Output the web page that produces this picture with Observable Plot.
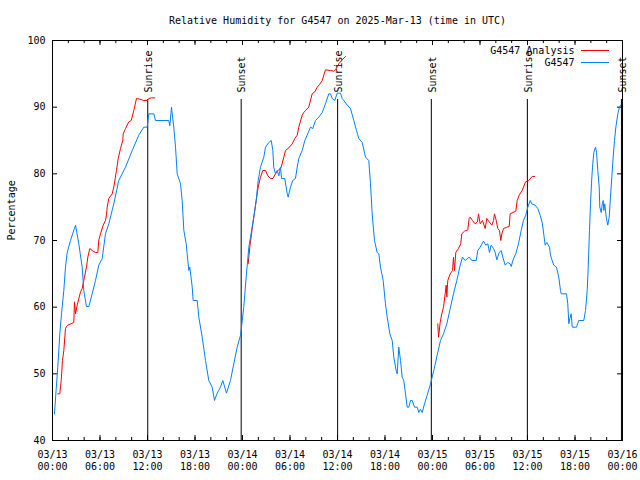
<!DOCTYPE html>
<html><head><meta charset="utf-8">
<script src="https://cdn.jsdelivr.net/npm/d3@7"></script>
<script src="https://cdn.jsdelivr.net/npm/@observablehq/plot@0.6"></script>
<style>body{margin:0;background:#fff;} svg{display:block}</style>
</head><body><div id="chart"></div>
<script>
const title = "Relative Humidity for G4547 on 2025-Mar-13 (time in UTC)";
const yLabel = "Percentage";
const startTime = "2025-03-13T00:00Z";
const endTime = "2025-03-16T00:00Z";
const yTicks = [40, 50, 60, 70, 80, 90, 100];
const seriesNames = ["G4547 Analysis", "G4547"];
const seriesColors = ["#ff0000", "#0080ff"];

// hours since 03/13 00:00 UTC
const blueHours = [0.25,0.47,0.67,0.92,1.14,1.43,1.64,1.86,2.27,2.91,
3.32,3.75,3.95,4.29,4.59,5.01,5.43,5.85,6.28,6.69,
7.11,7.74,8.37,9.22,10.07,10.90,11.53,11.96,12.16,12.80,
13.01,14.69,14.82,15.03,15.32,15.54,15.75,16.17,16.38,16.59,
16.89,17.01,17.22,17.34,17.65,17.77,18.28,18.48,18.91,19.33,
19.74,20.17,20.46,20.80,21.22,21.51,21.98,22.48,22.90,23.33,
23.75,23.87,24.16,24.50,24.80,25.01,25.43,25.73,25.98,26.27,
26.69,26.91,27.32,27.63,27.83,27.95,28.17,28.38,28.59,28.80,
28.93,29.34,29.65,29.77,30.06,30.35,30.69,30.91,31.11,31.54,
31.87,32.17,32.59,32.88,33.22,33.64,34.07,34.48,34.90,35.12,
35.33,35.66,35.96,36.38,36.59,36.80,37.22,37.64,38.06,38.40,
38.69,39.12,39.54,39.95,40.17,40.38,40.67,41.01,41.22,41.43,
41.77,42.06,42.28,42.61,42.91,43.11,43.41,43.54,43.74,43.96,
44.17,44.37,44.59,44.80,45.01,45.22,45.44,45.73,46.07,46.27,
46.48,46.70,46.99,47.33,47.75,48.16,48.59,49.01,49.39,49.81,
50.24,50.65,51.07,51.50,51.79,52.13,52.63,52.96,53.52,53.72,
54.02,54.44,54.73,54.99,55.20,55.41,55.71,55.92,56.12,56.42,
56.68,56.88,57.18,57.51,57.81,57.94,58.23,58.52,58.86,59.20,
59.49,59.78,60.04,60.34,60.54,60.97,61.30,61.60,61.89,62.23,
62.44,62.78,62.90,63.12,63.32,63.66,63.95,64.17,64.26,64.93,
65.09,65.22,65.35,65.52,65.65,66.19,66.48,67.11,67.33,67.54,
67.67,67.83,67.96,68.08,68.21,68.38,68.59,68.72,68.88,69.06,
69.13,69.31,69.44,69.56,69.64,69.76,69.94,70.14,70.32,70.48,
70.65,70.82,70.99,71.16,71.41,71.62,71.75];
const blueRH = [44,47.8,51,56,59,62.5,66,68.2,70,72.3,
69.5,66,62.5,60.1,60.1,62,64,66.3,67.3,71,
72.5,75.5,79,81,83.5,85.8,87,87,89,89,
88,88,87.2,90,87,84,80,78.5,76,71.5,
69.5,68,65.5,66,63,61,61,58.5,55.5,52,
49,48,46,47.1,48,49,47.1,49,51.5,54,
55.8,57,60,65,69,70.5,73.5,76,79,81,
82.5,84,84.7,85,83.5,81,80,80.5,79.7,81,
79.3,79.3,77,76.5,78,79,79.3,81,82.3,83.5,
85,85.8,87,86.8,88,88.5,89.2,90.5,92,92,
91.3,91,92.1,92.1,91.3,91,90.3,89.8,88,86.5,
85.3,84.7,82.5,82,78.5,74,70,68.2,68,66,
64,60.5,58.5,56,55,52.5,50.5,50,54,52,
49.5,49,47,45,45,46,46,45,45,44.2,
44.7,44.2,45.5,46.8,48.5,50.5,52.8,55,56,57.5,
59.8,62,64,66.3,67.5,67,67.5,67,67,68.5,
69,69.9,69.3,69.5,68.2,69.3,68.8,68.2,67.1,68.2,
68.5,67.5,66.3,66.7,66.5,66.1,67.3,68,69.5,71.5,
73,73.8,75,76,75.5,75.3,74.8,73.8,72.5,69.3,
69.7,69,67.8,67,66.3,66,64.5,62.5,62,62,
60.5,57.5,58.3,59,57,57,58,58,59.5,62.5,
66,71.5,75.5,78.5,81,83.2,84,83.2,80.5,78,
75,74.2,75.5,76,74.5,75.5,73.5,72.3,73.5,76.5,
79.5,82.5,85,87,89,90,90.3];

const redHours1 = [0.67,0.92,1.10,1.26,1.43,1.64,1.77,1.93,2.69,2.78,
2.91,3.12,3.54,3.75,3.95,4.29,4.46,4.71,5.01,5.43,
5.72,5.85,6.06,6.40,6.69,6.82,6.91,7.11,7.54,7.74,
8.08,8.30,8.59,8.88,8.93,9.22,9.64,9.94,10.27,10.61,
11.03,11.53,11.96,12.16,12.51,12.92];
const redRH1 = [47,47,49,52,53.5,56.8,57.1,57.3,57.7,60.8,
59,60.3,62.3,62.8,64,66,67.5,68.8,68.5,68.2,
68.2,70.1,71,72.3,73,73.8,75,76.3,77,78,
80.5,82.3,83.8,85,86,86.8,87.8,88,89.5,91.3,
91.2,91,91,91.3,91.4,91.4];
const redHours2 = [24.72,24.92,25.14,25.30,25.55,25.73,25.98,26.27,26.56,26.91,
27.20,27.54,27.83,28.17,28.51,28.89,29.22,29.43,29.85,30.28,
30.61,30.91,31.11,31.54,31.74,31.96,32.37,32.80,33.13,33.44,
33.73,34.07,34.48,35.12,35.53,35.75,36.16,36.51,37.01];
const redRH2 = [66.5,69,71,72.5,74.5,76,78,79.5,80.5,80.5,
79.7,79.3,79.3,80,80.5,81,82.5,83.5,83.9,84.5,
85.3,85.8,87,88.8,89.2,89.5,90,92,92.3,93,
93.4,94,95.6,95.5,95.4,95.6,96.5,97,97.6];
const redHours3 = [48.67,48.76,48.97,49.17,49.39,49.60,49.73,49.81,49.93,50.24,
50.53,50.65,50.78,50.94,51.28,51.57,51.70,52.04,52.46,52.63,
52.76,53.05,53.39,53.68,53.81,54.02,54.31,54.65,54.86,55.16,
55.49,55.71,55.83,56.05,56.25,56.46,56.63,56.76,56.97,57.39,
57.69,57.81,58.14,58.52,58.70,58.95,59.33,59.75,60.16,60.59,
60.88];
const redRH3 = [57.5,55.5,57.7,59,60,62,63.3,61.5,64,65,
65.5,67.5,65.5,68.2,68.8,69.5,71,71.4,71.6,73.3,
73.5,73,72.5,72.8,74,72.5,73,71.8,73.3,72.8,
72.3,73,74,73,71.8,71.5,70,71,71.8,72,
72.1,74,74.2,74.4,76,76.8,77.5,78.8,79,79.6,
79.6];

const sunTimes = ["2025-03-13T12:02Z","2025-03-13T23:50Z","2025-03-14T12:01Z","2025-03-14T23:51Z","2025-03-15T11:59Z","2025-03-15T23:52Z"];
const sunLabels = ["Sunrise","Sunset","Sunrise","Sunset","Sunrise","Sunset"];

const t0 = new Date(startTime), t1 = new Date(endTime);
const toDate = h => new Date(+t0 + h * 3600e3);
const blue = blueHours.map((h, i) => ({t: toDate(h), v: blueRH[i]}));
const red = [[redHours1, redRH1], [redHours2, redRH2], [redHours3, redRH3]]
  .flatMap(([hs, vs], s) => hs.map((h, i) => ({t: toDate(h), v: vs[i], seg: s})));
const sun = sunTimes.map((t, i) => ({t: new Date(t), label: sunLabels[i]}));
const majorTicks = d3.utcHour.every(6).range(t0, new Date(+t1 + 1));
const minorTicks = d3.utcHour.every(2).range(t0, new Date(+t1 + 1));

const W = 640, H = 480, mL = 52, mR = 18, mT = 40, mB = 40;
const fw = W - mL - mR, fh = H - mT - mB;
const fmt = d => d3.utcFormat("%m/%d")(d) + "\n" + d3.utcFormat("%H:%M")(d);

const chart = Plot.plot({
  width: W, height: H, marginLeft: mL, marginRight: mR, marginTop: mT, marginBottom: mB,
  style: {fontFamily: "'DejaVu Sans Mono', monospace", fontSize: "10px", background: "#fff", color: "#000"},
  x: {type: "utc", domain: [t0, t1]},
  y: {domain: [40, 100]},
  marks: [
    Plot.ruleX(minorTicks, {insetTop: fh - 3}),
    Plot.ruleX(minorTicks, {insetBottom: fh - 3}),
    Plot.ruleX(majorTicks, {insetTop: fh - 5}),
    Plot.ruleX(majorTicks, {insetBottom: fh - 5}),
    Plot.ruleY(yTicks, {insetRight: fw - 5}),
    Plot.ruleY(yTicks, {insetLeft: fw - 5}),
    Plot.axisX(majorTicks, {tickSize: 0, tickPadding: 9, tickFormat: fmt, lineHeight: 1.2, label: null, fontSize: 10}),
    Plot.axisY(yTicks, {tickSize: 0, tickPadding: 7, label: null, fontSize: 10}),
    Plot.ruleX(sun, {x: "t", insetTop: 59, stroke: "#000"}),
    Plot.text(sun, {x: "t", text: "label", frameAnchor: "top", lineAnchor: "middle", dy: 52, dx: 1, rotate: -90, textAnchor: "start", fill: "#000"}),
    Plot.line(red, {x: "t", y: "v", z: "seg", stroke: seriesColors[0], strokeWidth: 1}),
    Plot.line(blue, {x: "t", y: "v", stroke: seriesColors[1], strokeWidth: 1}),
    Plot.frame({stroke: "#000"}),
    Plot.text([title], {text: d => d, frameAnchor: "top", lineAnchor: "middle", dy: -20, fill: "#000"}),
    Plot.text([yLabel], {text: d => d, frameAnchor: "left", lineAnchor: "middle", dx: -41, rotate: -90, fill: "#000"}),
    Plot.text([seriesNames[0]], {text: d => d, frameAnchor: "top-right", lineAnchor: "middle", dx: -48, dy: 10, textAnchor: "end", fill: "#000"}),
    Plot.text([seriesNames[1]], {text: d => d, frameAnchor: "top-right", lineAnchor: "middle", dx: -48, dy: 22.5, textAnchor: "end", fill: "#000"})
  ]
});
// legend line samples
const svg = d3.select(chart);
[10.5, 22.5].forEach((dy, i) => {
  svg.append("line")
    .attr("x1", W - mR - 41).attr("x2", W - mR - 13)
    .attr("y1", mT + dy).attr("y2", mT + dy)
    .attr("stroke", seriesColors[i]).attr("stroke-width", 1);
});
document.getElementById("chart").appendChild(chart);
</script>
</body></html>
